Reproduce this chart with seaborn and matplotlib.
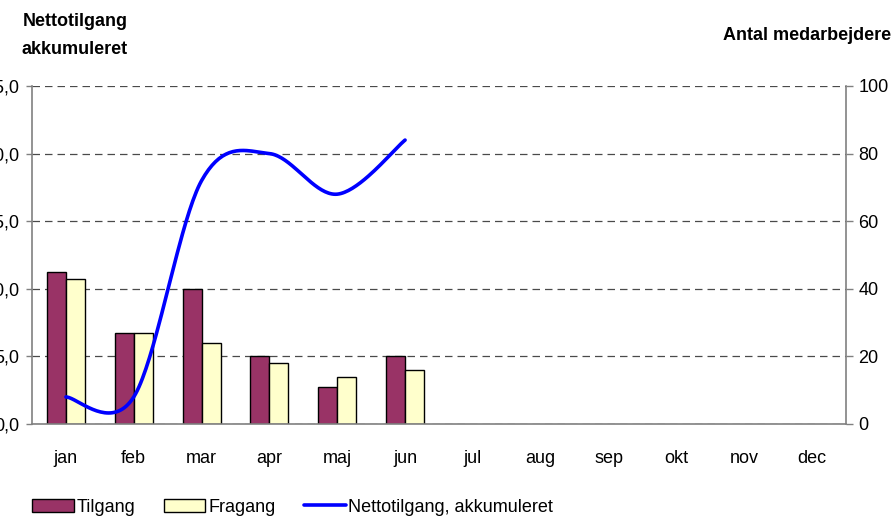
import numpy as np
import pandas as pd
import matplotlib
matplotlib.use('Agg')
import matplotlib.pyplot as plt
import seaborn as sns
from matplotlib.patches import Patch
from matplotlib.lines import Line2D

months = ['jan', 'feb', 'mar', 'apr', 'maj', 'jun', 'jul', 'aug', 'sep', 'okt', 'nov', 'dec']
tilgang = [45, 27, 40, 20, 11, 20]
fragang = [43, 27, 24, 18, 14, 16]
netto_akk = [2, 2, 18, 20, 17, 21]
left_ticks = [0, 5, 10, 15, 20, 25]
left_labels = ['0,0', '5,0', '10,0', '15,0', '20,0', '25,0']
right_ticks = [0, 20, 40, 60, 80, 100]
right_labels = ['0', '20', '40', '60', '80', '100']

sns.set_theme(style='white')
plt.rcParams['font.family'] = ['Liberation Sans', 'DejaVu Sans']
plt.rcParams['text.color'] = 'black'
plt.rcParams['xtick.color'] = 'black'
plt.rcParams['ytick.color'] = 'black'

df = pd.DataFrame({
    'maaned': months[:len(tilgang)] * 2,
    'serie': ['Tilgang'] * len(tilgang) + ['Fragang'] * len(fragang),
    'antal': tilgang + fragang,
})

W, H = 895, 518
fig = plt.figure(figsize=(W / 100, H / 100), dpi=100)
ax = fig.add_axes([32 / W, 1 - 424 / H, (846 - 32) / W, (424 - 86) / H])

sns.barplot(data=df, x='maaned', y='antal', hue='serie', order=months,
            hue_order=['Tilgang', 'Fragang'], palette=['#993366', '#FFFFCC'],
            width=0.56, gap=0, edgecolor='black', linewidth=1.0, saturation=1,
            legend=False, ax=ax)

ax2 = ax.twinx()

ax.set_xlim(-0.5, 11.5)
ax.set_ylim(0, 100)
ax.set_xlabel('')
ax.set_ylabel('')
ax.yaxis.tick_right()
ax.set_yticks(right_ticks, right_labels)
ax.yaxis.grid(True, color='#4a4a4a', linestyle=(0, (6, 4)), linewidth=0.9)
ax.set_axisbelow(True)

ax.set_xticks(np.arange(-0.5, 12, 1))
ax.set_xticklabels([''] * 13)
ax.set_xticks(np.arange(12), minor=True)
ax.set_xticklabels(months, minor=True)
ax.tick_params(axis='x', which='major', length=5, width=1, color='#808080', direction='out')
ax.tick_params(axis='x', which='minor', length=0, pad=19, labelsize=13)
ax.tick_params(axis='y', which='major', length=5, width=1, color='#808080', direction='out',
               pad=4, labelsize=13, right=True, left=False, labelright=True, labelleft=False)

for s in ['left', 'right', 'bottom']:
    ax.spines[s].set_visible(True)
    ax.spines[s].set_color('#808080')
    ax.spines[s].set_linewidth(1.2)
ax.spines['top'].set_visible(False)


def bezier_smooth(xs, ys, n=40):
    P = np.column_stack([xs, ys]).astype(float)
    ext = np.vstack([P[0], P, P[-1]])
    out = []
    for i in range(len(P) - 1):
        p0, p1 = P[i], P[i + 1]
        c1 = p0 + (ext[i + 2] - ext[i]) / 6
        c2 = p1 - (ext[i + 3] - ext[i + 1]) / 6
        t = np.linspace(0, 1, n)[:, None]
        seg = (1 - t) ** 3 * p0 + 3 * (1 - t) ** 2 * t * c1 + 3 * (1 - t) * t ** 2 * c2 + t ** 3 * p1
        out.append(seg if i == 0 else seg[1:])
    return np.vstack(out)


curve = bezier_smooth(np.arange(len(netto_akk)), netto_akk)
sns.lineplot(x=curve[:, 0], y=curve[:, 1], ax=ax2, color='#0000FF', linewidth=2.6,
             sort=False, estimator=None)
ax2.set_ylim(0, 25)
ax2.set_ylabel('')
ax2.yaxis.tick_left()
ax2.set_yticks(left_ticks, left_labels)
ax2.tick_params(axis='y', length=4, width=1, color='#808080', direction='out', pad=5,
                labelsize=13, left=True, right=False, labelleft=True, labelright=False)
for s in ax2.spines.values():
    s.set_visible(False)
ax2.set_xlim(-0.5, 11.5)

fig.text(75 / W, 1 - 22 / H, 'Nettotilgang', ha='center', va='center', weight='bold', size=13)
fig.text(75 / W, 1 - 50 / H, 'akkumuleret', ha='center', va='center', weight='bold', size=13)
fig.text(891 / W, 1 - 35 / H, 'Antal medarbejdere', ha='right', va='center', weight='bold', size=13)

handles = [Patch(facecolor='#993366', edgecolor='black', linewidth=1),
           Patch(facecolor='#FFFFCC', edgecolor='black', linewidth=1),
           Line2D([], [], color='#0000FF', linewidth=2.6)]
fig.legend(handles, ['Tilgang', 'Fragang', 'Nettotilgang, akkumuleret'],
           loc='center left', bbox_to_anchor=(32 / W, 1 - 507 / H), ncol=3, frameon=False,
           handlelength=2.3, handleheight=0.7, handletextpad=0.15, columnspacing=1.6,
           fontsize=13, borderpad=0, borderaxespad=0)

fig.savefig('out.png', dpi=100)
